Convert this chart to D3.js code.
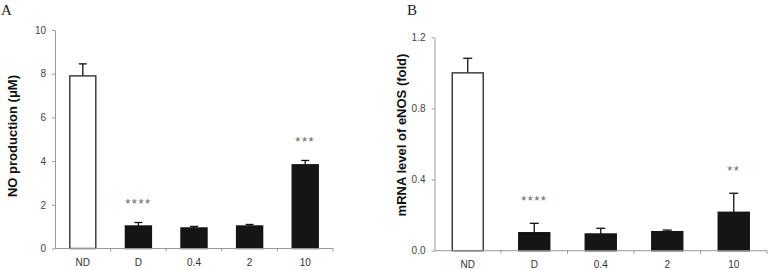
<!DOCTYPE html>
<html>
<head>
<meta charset="utf-8">
<script src="https://cdn.jsdelivr.net/npm/d3@7"></script>
<style>
  body { margin: 0; background: #fff; }
  svg { display: block; }
</style>
</head>
<body>
<svg id="chart" width="769" height="270"></svg>
<script>
// shared categories
const categories = ['ND', 'D', '0.4', '2', '10'];

// panel A: NO production
const noValues = [7.9, 1.03, 0.94, 1.03, 3.83];
const noErrors = [0.55, 0.16, 0.07, 0.07, 0.2];
const noStars = ['', '****', '', '', '***'];
const noTicks = [0, 2, 4, 6, 8, 10];

// panel B: eNOS mRNA
const enosValues = [1.0, 0.101, 0.094, 0.107, 0.216];
const enosErrors = [0.082, 0.053, 0.032, 0.009, 0.107];
const enosStars = ['', '****', '', '', '**'];
const enosTicks = [0, 0.4, 0.8, 1.2];

const svg = d3.select('#chart');

function drawPanel(cfg) {
    const g = svg.append('g');

    const xscale = d3.scaleBand()
        .domain(categories)
        .range([cfg.x0, cfg.x1]);

    const yscale = d3.scaleLinear()
        .domain(cfg.domain)
        .range([cfg.y0, cfg.y1]);

    const barW = cfg.barW;
    const data = categories.map((c, i) => ({
        cat: c, value: cfg.values[i], err: cfg.errors[i], star: cfg.stars[i]
    }));

    // error bars (drawn before bars so the bar outline sits on top)
    const eb = g.selectAll('.err').data(data).enter().append('g')
        .attr('stroke', '#111')
        .attr('stroke-width', 1.3);
    eb.append('line')
        .attr('x1', d => xscale(d.cat) + xscale.bandwidth() / 2)
        .attr('x2', d => xscale(d.cat) + xscale.bandwidth() / 2)
        .attr('y1', d => yscale(d.value))
        .attr('y2', d => yscale(d.value + d.err));
    eb.append('line')
        .attr('x1', d => xscale(d.cat) + xscale.bandwidth() / 2 - cfg.cap / 2)
        .attr('x2', d => xscale(d.cat) + xscale.bandwidth() / 2 + cfg.cap / 2)
        .attr('y1', d => yscale(d.value + d.err))
        .attr('y2', d => yscale(d.value + d.err));

    // bars
    g.selectAll('.bar').data(data).enter().append('rect')
        .attr('x', d => xscale(d.cat) + (xscale.bandwidth() - barW) / 2)
        .attr('width', barW)
        .attr('y', d => yscale(d.value))
        .attr('height', d => yscale(0) - yscale(d.value))
        .attr('fill', (d, i) => i === 0 ? '#fff' : '#151515')
        .attr('stroke', (d, i) => i === 0 ? '#333' : '#151515')
        .attr('stroke-width', 1.4);

    // significance stars
    g.selectAll('.star').data(data.filter(d => d.star)).enter().append('text')
        .attr('x', d => xscale(d.cat) + xscale.bandwidth() / 2)
        .attr('y', d => yscale(d.value + d.err) - cfg.starGap)
        .attr('text-anchor', 'middle')
        .style('font-family', 'Liberation Sans, Arial, sans-serif')
        .style('font-size', '13px')
        .style('letter-spacing', '1.5px')
        .attr('fill', '#666')
        .text(d => d.star);

    // y axis
    const yaxis = d3.axisLeft(yscale)
        .tickValues(cfg.ticks)
        .tickFormat(cfg.fmt)
        .tickSize(3)
        .tickSizeOuter(0)
        .tickPadding(6);
    const yg = g.append('g')
        .attr('transform', `translate(${cfg.x0},0)`)
        .call(yaxis);

    // x axis: ticks at band boundaries
    const xg = g.append('g')
        .attr('transform', `translate(0,${cfg.y0})`);
    xg.append('line')
        .attr('x1', cfg.x0).attr('x2', cfg.x1)
        .attr('y1', 0).attr('y2', 0)
        .attr('stroke', '#999');
    xg.selectAll('.xt').data(categories).enter().append('line')
        .attr('x1', d => xscale(d) + xscale.bandwidth())
        .attr('x2', d => xscale(d) + xscale.bandwidth())
        .attr('y1', 0).attr('y2', 3)
        .attr('stroke', '#999');
    xg.selectAll('.xl').data(categories).enter().append('text')
        .attr('x', d => xscale(d) + xscale.bandwidth() / 2)
        .attr('y', 17)
        .attr('text-anchor', 'middle')
        .style('font-family', 'Liberation Sans, Arial, sans-serif')
        .style('font-size', '10px')
        .attr('fill', '#333')
        .text(d => d);

    yg.select('.domain').attr('stroke', '#999');
    yg.selectAll('.tick line').attr('stroke', '#999');
    yg.selectAll('.tick text')
        .style('font-family', 'Liberation Sans, Arial, sans-serif')
        .style('font-size', '10px')
        .attr('fill', '#444');

    // y label
    svg.append('text')
        .attr('transform', `translate(${cfg.labelX},${cfg.labelY}) rotate(-90)`)
        .attr('text-anchor', 'middle')
        .style('font-family', 'Liberation Sans, Arial, sans-serif')
        .style('font-size', '13px')
        .style('font-weight', 'bold')
        .attr('fill', '#111')
        .text(cfg.ylabel);

    // panel letter
    svg.append('text')
        .attr('x', cfg.letterX)
        .attr('y', 15)
        .style('font-family', 'Liberation Serif, Times New Roman, serif')
        .style('font-size', '15px')
        .attr('fill', '#222')
        .text(cfg.letter);
}

drawPanel({
    x0: 55, x1: 333, y0: 248.5, y1: 30, domain: [0, 10],
    values: noValues, errors: noErrors, stars: noStars, ticks: noTicks,
    fmt: d3.format('d'), barW: 26, cap: 8, starGap: 14,
    ylabel: 'NO production (μM)', labelX: 17, labelY: 136,
    letter: 'A', letterX: 1
});

drawPanel({
    x0: 434.5, x1: 767, y0: 250.7, y1: 37.3, domain: [0, 1.2],
    values: enosValues, errors: enosErrors, stars: enosStars, ticks: enosTicks,
    fmt: d3.format('.1f'), barW: 31, cap: 9, starGap: 18,
    ylabel: 'mRNA level of eNOS (fold)', labelX: 406, labelY: 135,
    letter: 'B', letterX: 407
});
</script>
</body>
</html>
